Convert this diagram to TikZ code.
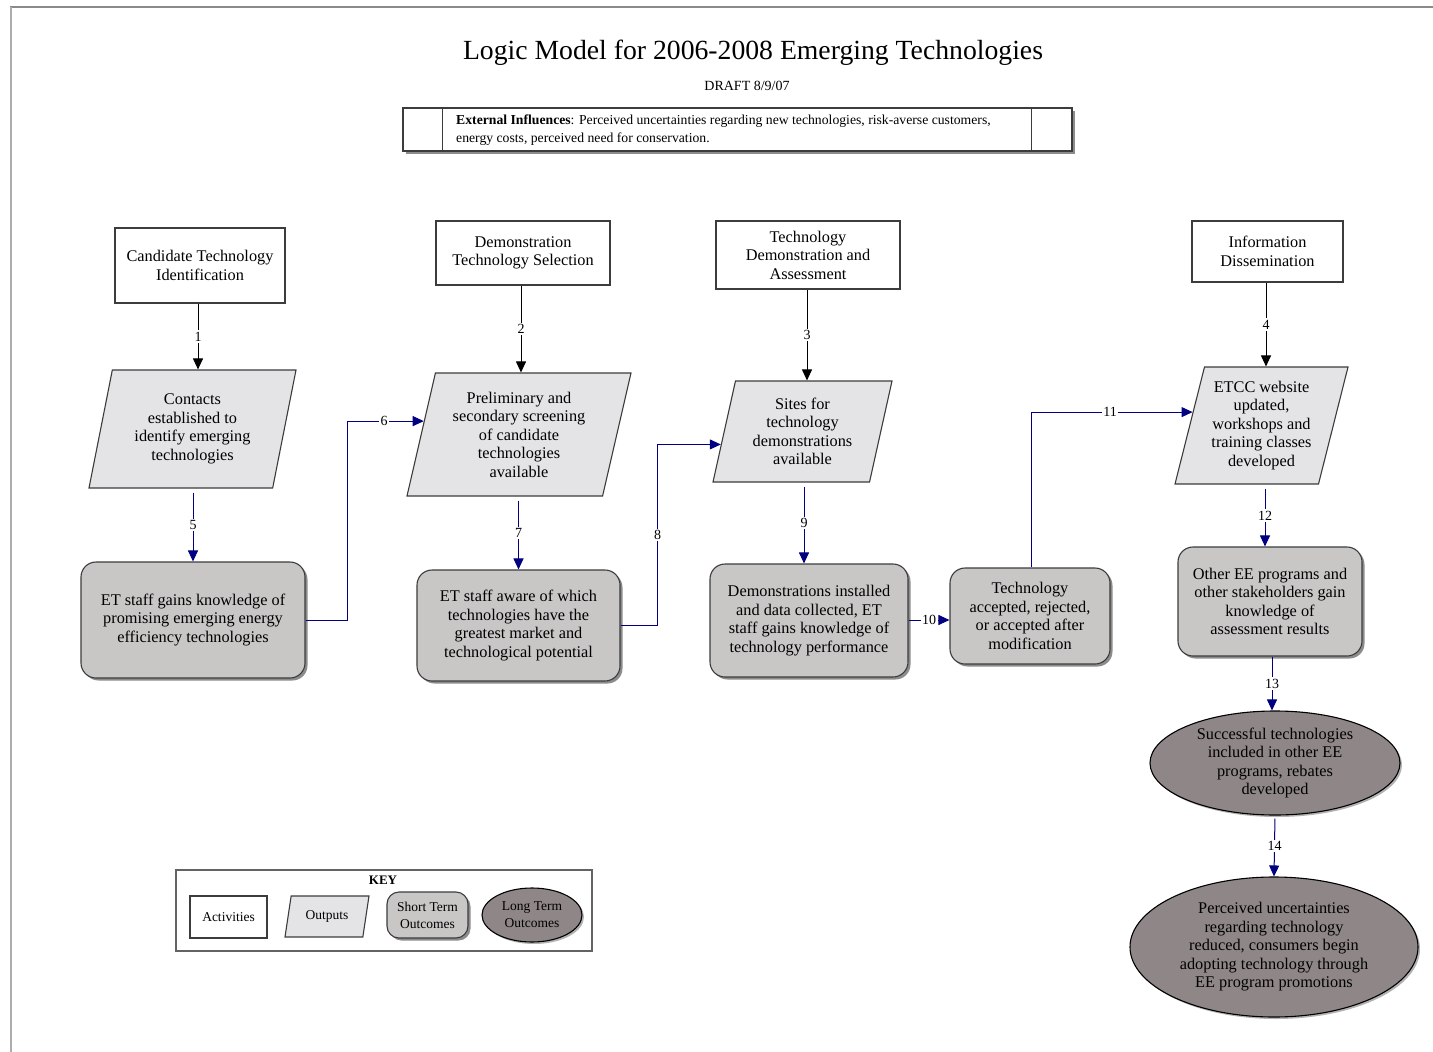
\documentclass[tikz,border=0pt]{standalone}
\usepackage{fontspec}
\setmainfont{Liberation Serif}
\usetikzlibrary{shapes.geometric,shadows,arrows.meta}

\definecolor{outfill}{HTML}{E4E3E5}
\definecolor{stfill}{HTML}{C9C6C6}
\definecolor{ltfill}{HTML}{8F8787}
\definecolor{edgegray}{HTML}{3C3C3C}
\definecolor{linkblue}{HTML}{000080}
\definecolor{framegray}{HTML}{8A8A8A}

\begin{document}
\begin{tikzpicture}[x=1pt,y=-1pt,
  every node/.style={font=\fontsize{16.3}{18.5}\selectfont},
  boxshadow/.style={drop shadow={shadow xshift=2.5pt,shadow yshift=-2.5pt,fill=black,opacity=0.45}},
  activity/.style={draw=edgegray,line width=1.1pt,fill=white,align=center,inner sep=2pt},
  output/.style={trapezium,trapezium left angle=72,trapezium right angle=108,
    trapezium stretches body,draw=edgegray,line width=1.1pt,fill=outfill,align=center,inner sep=1pt},
  shortterm/.style={rectangle,rounded corners=15pt,draw=edgegray,line width=1.1pt,fill=stfill,
    align=center,inner sep=2pt,boxshadow},
  longterm/.style={ellipse,draw=black,line width=1.1pt,fill=ltfill,align=center,inner sep=0pt,
    drop shadow={shadow xshift=2pt,shadow yshift=-2pt,fill=black,opacity=0.3}},
  actlink/.style={draw=black,line width=1pt,-{Triangle[length=11pt,width=10pt]}},
  flowlink/.style={draw=linkblue,line width=1pt,-{Triangle[length=11pt,width=10pt]}},
  lbl/.style={fill=white,inner sep=1.5pt,font=\fontsize{14}{14}\selectfont},
  keytext/.style={font=\fontsize{13.5}{17}\selectfont}
]
\useasboundingbox (0,0) rectangle (1433,1052);

% page frame
\draw[framegray,line width=1.6pt] (10,7) -- (1433,7);
\draw[framegray!70,line width=1.6pt] (11,7) -- (11,1052);

% heading
\node (title) at (753,53) {\fontsize{27.7}{32}\selectfont Logic Model for 2006-2008 Emerging Technologies};
\node (draft) at (747,86) {\fontsize{14}{16}\selectfont DRAFT 8/9/07};

% external influences
\node[draw=edgegray,line width=1.1pt,fill=white,minimum width=669pt,minimum height=43pt,boxshadow]
  (ext) at (737.5,129.5) {};
\draw[edgegray,line width=1.1pt] ([xshift=40pt]ext.north west) -- ([xshift=40pt]ext.south west);
\draw[edgegray,line width=1.1pt] ([xshift=-41pt]ext.north east) -- ([xshift=-41pt]ext.south east);
\node[anchor=west,align=left,inner sep=0pt,font=\fontsize{13.7}{18}\selectfont] (exttext) at (456,130)
  {\textbf{External Influences}: Perceived uncertainties regarding new technologies, risk-averse customers,\\
   energy costs, perceived need for conservation.};

% activities
\node[activity,minimum width=170pt,minimum height=75pt] (A1) at (200,265.5)
  {Candidate Technology\\Identification};
\node[activity,minimum width=174pt,minimum height=64pt] (A2) at (523,253)
  {Demonstration\\Technology Selection};
\node[activity,minimum width=184pt,minimum height=68pt] (A3) at (808,255)
  {Technology\\Demonstration and\\Assessment};
\node[activity,minimum width=151pt,minimum height=61pt] (A4) at (1267.5,251.5)
  {Information\\Dissemination};

% outputs
\node[output,minimum width=207pt,minimum height=118pt] (O1) at (192.5,429)
  {Contacts\\established to\\identify emerging\\technologies};
\node[output,minimum width=224pt,minimum height=123pt] (O2) at (519,434.5)
  {Preliminary and\\secondary screening\\of candidate\\technologies\\available};
\node[output,minimum width=179pt,minimum height=101pt] (O3) at (802.5,431.5)
  {Sites for\\technology\\demonstrations\\available};
\node[output,minimum width=173pt,minimum height=117pt] (O4) at (1261.5,425.5)
  {ETCC website\\updated,\\workshops and\\training classes\\developed};

% short term outcomes
\node[shortterm,minimum width=224pt,minimum height=116pt] (S1) at (193,620)
  {ET staff gains knowledge of\\promising emerging energy\\efficiency technologies};
\node[shortterm,minimum width=203pt,minimum height=111pt] (S2) at (518.5,625.5)
  {ET staff aware of which\\technologies have the\\greatest market and\\technological potential};
\node[shortterm,minimum width=198pt,minimum height=113pt] (S3) at (809,620.5)
  {Demonstrations installed\\and data collected, ET\\staff gains knowledge of\\technology performance};
\node[shortterm,minimum width=160pt,minimum height=96pt] (S4) at (1030,616)
  {Technology\\accepted, rejected,\\or accepted after\\modification};
\node[shortterm,minimum width=184pt,minimum height=109pt] (S5) at (1270,601.5)
  {Other EE programs and\\other stakeholders gain\\knowledge of\\assessment results};

% long term outcomes
\node[longterm,minimum width=250pt,minimum height=104pt] (L1) at (1275,763)
  {Successful technologies\\included in other EE\\programs, rebates\\developed};
\node[longterm,minimum width=288pt,minimum height=140pt] (L2) at (1274,947)
  {Perceived uncertainties\\regarding technology\\reduced, consumers begin\\adopting technology through\\EE program promotions};

% activities to outputs
\draw[actlink] (A1.south -| 198,0) -- node[lbl]{1} (O1.north -| 198,0);
\draw[actlink] (A2.south -| 521,0) -- node[lbl]{2} (O2.north -| 521,0);
\draw[actlink] (A3.south -| 807,0) -- node[lbl]{3} (O3.north -| 807,0);
\draw[actlink] (A4.south -| 1266,0) -- node[lbl]{4} (O4.north -| 1266,0);

% outputs to outcomes
\draw[flowlink,shorten <=4pt] (O1.south -| S1.north) -- node[lbl]{5} (S1.north);
\draw[flowlink] (S1.east) -- ++(42,0) |- node[lbl,pos=0.74]{6} (O2.172);
\draw[flowlink,shorten <=4pt] (O2.south -| S2.north) -- node[lbl]{7} (S2.north);
\draw[flowlink] (S2.east) -- ++(37,0) |- node[lbl,pos=0.25]{8} (O3.189);
\draw[flowlink,shorten <=4pt] (O3.south -| 804,0) -- node[lbl]{9} (S3.north -| 804,0);
\draw[flowlink] (S3.east |- 0,620) -- node[lbl]{10} (S4.west |- 0,620);
\draw[flowlink] (S4.north -| 1031,0) |- node[lbl,pos=0.745]{11} (O4.169);
\draw[flowlink,shorten <=4pt] (O4.south -| 1265,0) -- node[lbl]{12} (S5.north -| 1265,0);
\draw[flowlink] (S5.south -| 1272,0) -- node[lbl]{13} (L1.north -| 1272,0);
\draw[flowlink,shorten <=3pt] (L1.south) -- node[lbl]{14} (L2.north);

% key
\node[draw=edgegray!80,line width=1.1pt,minimum width=416pt,minimum height=81pt] (key) at (384,910.5) {};
\node[font=\bfseries\fontsize{13}{14}\selectfont,inner sep=0pt] (keytitle) at (383,880) {KEY};
\node[activity,keytext,minimum width=77pt,minimum height=42pt] (kA) at (228.5,917) {Activities};
\node[output,keytext,trapezium left angle=66,trapezium right angle=114,minimum width=84pt,minimum height=41pt] (kO) at (327,916.5) {Outputs};
\node[shortterm,keytext,rounded corners=12pt,minimum width=81pt,minimum height=46pt,inner sep=1pt] (kS) at (427.5,915) {Short Term\\Outcomes};
\node[longterm,keytext,minimum width=100pt,minimum height=54pt] (kL) at (532,915) {Long Term\\Outcomes};
\end{tikzpicture}
\end{document}
